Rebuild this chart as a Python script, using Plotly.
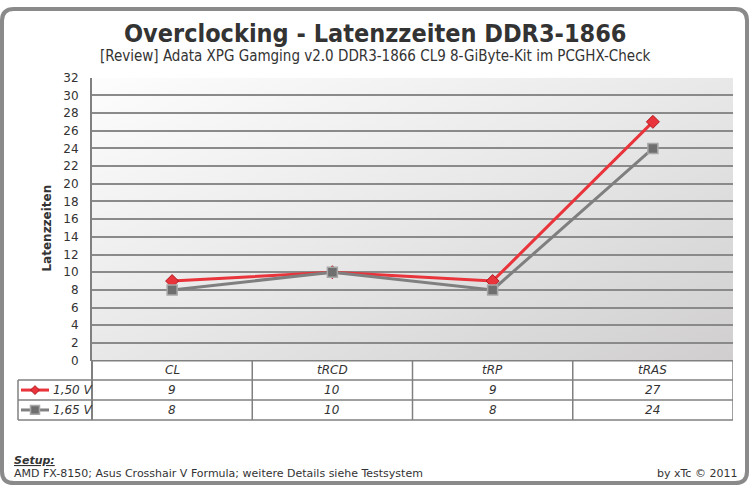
import base64
import plotly.graph_objects as go

# ---- data ----
categories = ["CL", "tRCD", "tRP", "tRAS"]
series_names = ["1,50 V", "1,65 V"]
values_150 = [9, 10, 9, 27]
values_165 = [8, 10, 8, 24]
y_ticks = list(range(0, 33, 2))

title = "Overclocking - Latenzzeiten DDR3-1866"
subtitle = "[Review] Adata XPG Gamging v2.0 DDR3-1866 CL9 8-GiByte-Kit im PCGHX-Check"
y_title = "Latenzzeiten"
setup_label = "Setup:"
setup_text = "AMD FX-8150; Asus Crosshair V Formula; weitere Details siehe Testsystem"
credit = "by xTc © 2011"

# ---- layout helpers (pixel -> paper) ----
W, H = 749, 493
def px(x):
    return x / W
def py(y):
    return 1 - y / H

PL, PR, PT, PB = 92, 733, 72.7, 364
ROW1, ROW2, ROW3 = 384, 404.5, 425
TL = 18

RED = "#e8343a"
GRAY = "#7f7f7f"
LINE = "#808080"
TXT = "#333333"
FONT = "Tahoma, DejaVu Sans, Verdana, sans-serif"
COND = "DejaVu Sans Condensed, Liberation Sans Narrow, DejaVu Sans, sans-serif"

fig = go.Figure()
fig.add_trace(go.Scatter(
    x=categories, y=values_150, name=series_names[0], mode="lines+markers",
    line=dict(color=RED, width=3),
    marker=dict(symbol="diamond", size=10, color=RED, line=dict(color="#b01c22", width=1)),
))
fig.add_trace(go.Scatter(
    x=categories, y=values_165, name=series_names[1], mode="lines+markers",
    line=dict(color=GRAY, width=3),
    marker=dict(symbol="square", size=10, color="#6f6f6f", line=dict(color="#a8a8a8", width=1.5)),
))

# gradient background for the plot area
svg = ("<svg xmlns='http://www.w3.org/2000/svg' width='100' height='100' preserveAspectRatio='none'>"
       "<defs><linearGradient id='g' x1='0' y1='0' x2='1' y2='1'>"
       "<stop offset='0' stop-color='#fdfdfd'/><stop offset='0.5' stop-color='#e8e8e8'/>"
       "<stop offset='1' stop-color='#d0cece'/></linearGradient></defs>"
       "<rect width='100' height='100' fill='url(#g)'/></svg>")
src = "data:image/svg+xml;base64," + base64.b64encode(svg.encode()).decode()

shapes = []
# outer rounded border
r = 12
x0, x1, y0, y1 = 2, 747, 2, 490
path = (f"M {px(x0+r)},{py(y0)} L {px(x1-r)},{py(y0)} Q {px(x1)},{py(y0)} {px(x1)},{py(y0+r)} "
        f"L {px(x1)},{py(y1-r)} Q {px(x1)},{py(y1)} {px(x1-r)},{py(y1)} "
        f"L {px(x0+r)},{py(y1)} Q {px(x0)},{py(y1)} {px(x0)},{py(y1-r)} "
        f"L {px(x0)},{py(y0+r)} Q {px(x0)},{py(y0)} {px(x0+r)},{py(y0)} Z")
shapes.append(dict(type="path", path=path, xref="paper", yref="paper",
                   line=dict(color="#8a8a8a", width=4)))

# table horizontal lines
for yy, xs in [(PB, PL), (ROW1, TL), (ROW2, TL), (ROW3, TL)]:
    shapes.append(dict(type="line", xref="paper", yref="paper",
                       x0=px(xs), x1=px(PR), y0=py(yy), y1=py(yy),
                       line=dict(color=LINE, width=1.5)))
# table vertical lines
shapes.append(dict(type="line", xref="paper", yref="paper", x0=px(TL), x1=px(TL),
                   y0=py(ROW1), y1=py(ROW3), line=dict(color=LINE, width=1.5)))
shapes.append(dict(type="line", xref="paper", yref="paper", x0=px(PL), x1=px(PL),
                   y0=py(PB), y1=py(ROW3), line=dict(color=LINE, width=2)))
for i in range(len(categories)):
    shapes.append(dict(type="line", xref="x", yref="paper", x0=i + 0.5, x1=i + 0.5,
                       y0=py(PB), y1=py(ROW3), line=dict(color=LINE, width=1.5)))

ann = []
ann.append(dict(text=f"<b>{title}</b>", x=px(375), y=py(27), xref="paper", yref="paper",
                showarrow=False, font=dict(family=COND, size=25, color="#333333"),
                xanchor="center", yanchor="middle"))
ann.append(dict(text=subtitle, x=px(375), y=py(50), xref="paper", yref="paper",
                showarrow=False, font=dict(family=COND, size=15, color="#333333"),
                xanchor="center", yanchor="middle"))
ann.append(dict(text=f"<b>{y_title}</b>", x=px(47), y=py(228), xref="paper", yref="paper",
                showarrow=False, textangle=-90, font=dict(family=FONT, size=12, color=TXT),
                xanchor="center", yanchor="middle"))

# category labels row
for c in categories:
    ann.append(dict(text=f"<i>{c}</i>", x=c, y=py((PB + ROW1) / 2), xref="x", yref="paper",
                    showarrow=False, font=dict(family=FONT, size=12, color=TXT),
                    xanchor="center", yanchor="middle"))
# value rows + legend keys
rows = [(series_names[0], values_150, (ROW1 + ROW2) / 2, RED, "diamond"),
        (series_names[1], values_165, (ROW2 + ROW3) / 2, GRAY, "square")]
for name, vals, yc, col, sym in rows:
    for c, v in zip(categories, vals):
        ann.append(dict(text=f"<i>{v}</i>", x=c, y=py(yc), xref="x", yref="paper",
                        showarrow=False, font=dict(family=FONT, size=12, color=TXT),
                        xanchor="center", yanchor="middle"))
    ann.append(dict(text=f"<i>{name}</i>", x=px(51), y=py(yc), xref="paper", yref="paper",
                    showarrow=False, font=dict(family=FONT, size=12, color=TXT),
                    xanchor="left", yanchor="middle"))
    shapes.append(dict(type="line", xref="paper", yref="paper", x0=px(21), x1=px(49),
                       y0=py(yc), y1=py(yc), line=dict(color=col, width=3)))
    d = 4.5
    if sym == "diamond":
        p = (f"M {px(35)},{py(yc-d)} L {px(35+d)},{py(yc)} L {px(35)},{py(yc+d)} "
             f"L {px(35-d)},{py(yc)} Z")
        shapes.append(dict(type="path", path=p, xref="paper", yref="paper",
                           fillcolor=RED, line=dict(color="#b01c22", width=1)))
    else:
        shapes.append(dict(type="rect", xref="paper", yref="paper",
                           x0=px(35 - d), x1=px(35 + d), y0=py(yc + d), y1=py(yc - d),
                           fillcolor="#6f6f6f", line=dict(color="#a8a8a8", width=1.5)))

# footer
ann.append(dict(text=f"<b><i><u>{setup_label}</u></i></b>", x=px(12), y=py(467), xref="paper", yref="paper",
                showarrow=False, font=dict(family=FONT, size=11, color=TXT),
                xanchor="left", yanchor="middle"))
ann.append(dict(text=setup_text, x=px(12), y=py(480), xref="paper", yref="paper",
                showarrow=False, font=dict(family=FONT, size=11, color=TXT),
                xanchor="left", yanchor="middle"))
ann.append(dict(text=credit, x=px(739), y=py(480), xref="paper", yref="paper",
                showarrow=False, font=dict(family=FONT, size=11, color=TXT),
                xanchor="right", yanchor="middle"))

fig.update_layout(
    width=W, height=H,
    margin=dict(l=0, r=0, t=0, b=0),
    paper_bgcolor="white",
    plot_bgcolor="rgba(0,0,0,0)",
    showlegend=False,
    shapes=shapes,
    annotations=ann,
    images=[dict(source=src, xref="paper", yref="paper", x=px(PL), y=py(PT),
                 sizex=px(PR) - px(PL), sizey=(PB - PT) / H,
                 xanchor="left", yanchor="top", sizing="stretch", layer="below")],
    xaxis=dict(domain=[px(PL), px(PR)], type="category", categoryorder="array",
               categoryarray=categories, range=[-0.5, len(categories) - 0.5],
               showticklabels=False, showgrid=False, zeroline=False, showline=False,
               fixedrange=True),
    yaxis=dict(domain=[py(PB), py(PT)], range=[0, 32], tickvals=y_ticks,
               showgrid=True, gridcolor="#8a8a8a", gridwidth=1.5,
               showline=True, linecolor=LINE, linewidth=2, zeroline=False,
               ticks="outside", ticklen=9, tickcolor="rgba(0,0,0,0)",
               tickfont=dict(family=FONT, size=12, color=TXT), fixedrange=True),
)

fig.write_html("out.html")
